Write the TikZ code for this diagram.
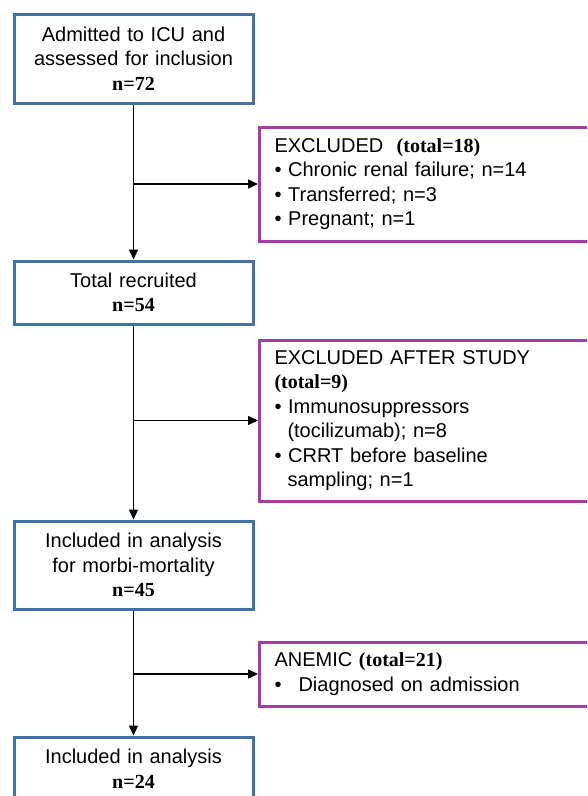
\documentclass[tikz,border=0pt]{standalone}
\usepackage{fontspec}
\setmainfont{Liberation Sans}
\newfontfamily\numfont{Liberation Serif}
\usetikzlibrary{arrows.meta}

\definecolor{boxblue}{RGB}{68,112,168}
\definecolor{boxpurple}{RGB}{168,60,166}

\newcommand{\nval}[1]{{\numfont\bfseries #1}}
\newcommand{\bul}{\textbullet\ }
\newcommand{\hang}{\hspace*{13pt}}

\tikzset{
  stagebox/.style={draw=boxblue, line width=3pt, fill=white,
    minimum width=239pt, text width=232pt, align=center,
    inner sep=0pt, font=\fontsize{20}{24.5}\selectfont},
  exclbox/.style={draw=boxpurple, line width=3pt, fill=white,
    anchor=west, text width=310pt, inner xsep=15pt, inner ysep=0pt,
    align=left, font=\fontsize{20}{24.5}\selectfont},
  flow/.style={line width=1.4pt, -{Triangle[length=10pt,width=9pt]}}
}

\begin{document}
\begin{tikzpicture}[x=1pt, y=-1pt]

  \clip (0,0) rectangle (587,796);

  % main stages
  \node[stagebox, minimum height=89pt] (admit) at (133.5,58.5)
    {Admitted to ICU and\\assessed for inclusion\\\nval{n=72}};
  \node[stagebox, minimum height=63pt] (recruit) at (133.5,292.5)
    {Total recruited\\\nval{n=54}};
  \node[stagebox, minimum height=88pt] (morbi) at (133.5,565)
    {Included in analysis\\for morbi-mortality\\\nval{n=45}};
  \node[stagebox, minimum height=63pt] (final) at (133.5,768.5)
    {Included in analysis\\\nval{n=24}};

  % exclusions
  \node[exclbox, minimum height=114pt] (excl) at (258,184)
    {EXCLUDED \ \nval{(total=18)}\\
     \bul Chronic renal failure; n=14\\
     \bul Transferred; n=3\\
     \bul Pregnant; n=1};
  \node[exclbox, minimum height=161pt] (exclafter) at (258,420.5)
    {EXCLUDED AFTER STUDY\\
     \nval{(total=9)}\\
     \bul Immunosuppressors\\
     \hang(tocilizumab); n=8\\
     \bul CRRT before baseline\\
     \hang sampling; n=1};
  \node[exclbox, minimum height=64pt] (anemic) at (258,674)
    {ANEMIC \nval{(total=21)}\\
     \textbullet\hspace{17pt}Diagnosed on admission};

  % branch points
  \coordinate (br1) at (admit.south |- excl.west);
  \coordinate (br2) at (recruit.south |- exclafter.west);
  \coordinate (br3) at (morbi.south |- anemic.west);

  \draw[flow] (admit.south) -- (recruit.north);
  \draw[flow] (recruit.south) -- (morbi.north);
  \draw[flow] (morbi.south) -- (final.north);

  \draw[flow] (br1) -- (excl.west);
  \draw[flow] (br2) -- (exclafter.west);
  \draw[flow] (br3) -- (anemic.west);

\end{tikzpicture}
\end{document}
